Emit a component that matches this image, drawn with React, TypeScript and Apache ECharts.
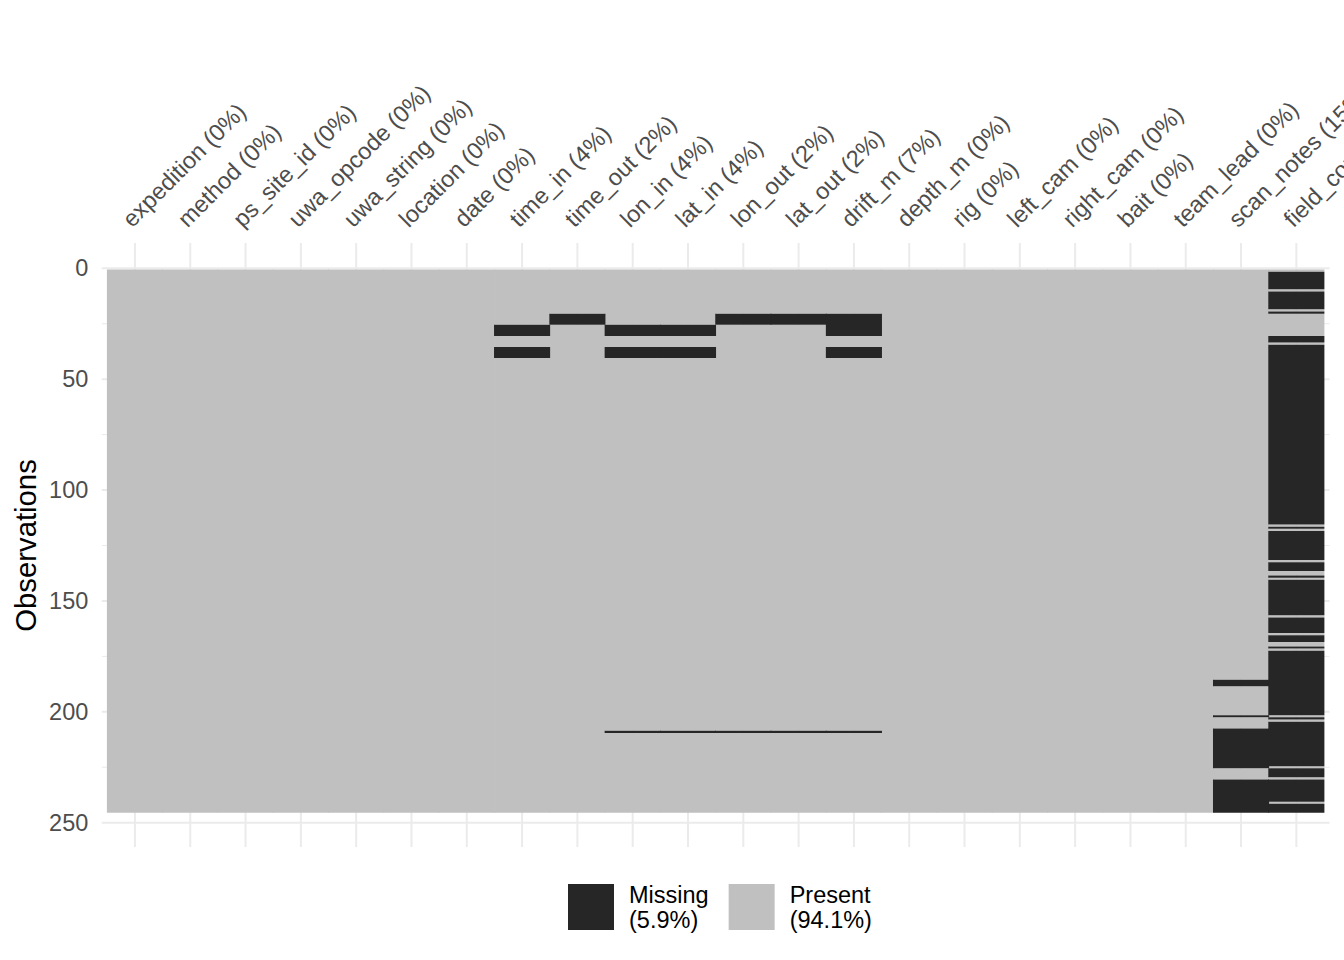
import React, { useEffect, useRef } from 'react';
import * as echarts from 'echarts';

// ---------- data ----------
const COLUMNS = [
  'expedition', 'method', 'ps_site_id', 'uwa_opcode', 'uwa_string', 'location', 'date',
  'time_in', 'time_out', 'lon_in', 'lat_in', 'lon_out', 'lat_out', 'drift_m', 'depth_m',
  'rig', 'left_cam', 'right_cam', 'bait', 'team_lead', 'scan_notes', 'field_comments',
];
const N_ROWS = 245;
const Y_TICKS = [0, 50, 100, 150, 200, 250];
const Y_MINOR_TICKS = [25, 75, 125, 175, 225];

// missing runs per column: [firstRow, lastRow] (inclusive)
const TIME_IN_MISSING = [[26, 30], [36, 40]];
const TIME_OUT_MISSING = [[21, 25]];
const LON_IN_MISSING = [[26, 30], [36, 40], [209, 209]];
const LAT_IN_MISSING = [[26, 30], [36, 40], [209, 209]];
const LON_OUT_MISSING = [[21, 25], [209, 209]];
const LAT_OUT_MISSING = [[21, 25], [209, 209]];
const DRIFT_M_MISSING = [[21, 30], [36, 40], [209, 209]];
const SCAN_NOTES_MISSING = [[186, 188], [202, 202], [208, 225], [231, 245]];
const FIELD_COMMENTS_MISSING = [
  [2, 9], [11, 18], [20, 20], [31, 33], [35, 115], [117, 117], [119, 131], [133, 136],
  [139, 139], [141, 156], [158, 164], [166, 168], [171, 171], [173, 201], [203, 203],
  [205, 224], [226, 229], [231, 240], [242, 245],
];

const MISSING_BY_COLUMN: Record<string, number[][]> = {
  time_in: TIME_IN_MISSING,
  time_out: TIME_OUT_MISSING,
  lon_in: LON_IN_MISSING,
  lat_in: LAT_IN_MISSING,
  lon_out: LON_OUT_MISSING,
  lat_out: LAT_OUT_MISSING,
  drift_m: DRIFT_M_MISSING,
  scan_notes: SCAN_NOTES_MISSING,
  field_comments: FIELD_COMMENTS_MISSING,
};

// ---------- derived ----------
const missingData: number[][] = [];
const presentData: number[][] = [];
let totalMissing = 0;
const colLabels = COLUMNS.map((name, ci) => {
  const runs = (MISSING_BY_COLUMN[name] || []).slice().sort((a, b) => a[0] - b[0]);
  let cnt = 0;
  let cur = 1;
  runs.forEach(([s, e]) => {
    missingData.push([ci, s, e]);
    cnt += e - s + 1;
    if (s > cur) presentData.push([ci, cur, s - 1]);
    cur = e + 1;
  });
  if (cur <= N_ROWS) presentData.push([ci, cur, N_ROWS]);
  totalMissing += cnt;
  return `${name} (${Math.round((cnt / N_ROWS) * 100)}%)`;
});
const missPct = ((totalMissing / (N_ROWS * COLUMNS.length)) * 100).toFixed(1);
const presPct = (100 - parseFloat(missPct)).toFixed(1);

const MISSING_COLOR = '#262626';
const PRESENT_COLOR = '#C0C0C0';
const GRID_COLOR = '#EBEBEB';
const FONT = '"Liberation Sans", Arial, Helvetica, sans-serif';

const tileRender = (params: any, api: any) => {
  const x = api.value(0);
  const s = api.value(1);
  const e = api.value(2);
  const p1 = api.coord([x, s - 0.5]);
  const p2 = api.coord([x, e + 0.5]);
  const w = api.size([1, 0])[0];
  return {
    type: 'rect',
    shape: { x: p1[0] - w / 2 - 0.4, y: p1[1], width: w + 0.8, height: p2[1] - p1[1] },
    style: api.style(),
  };
};

const Y_PANEL_TOP = -11.4;
const Y_PANEL_BOTTOM = 261;

export default function App() {
  const ref = useRef<HTMLDivElement>(null);
  useEffect(() => {
    const chart = echarts.init(ref.current!, null, { renderer: 'svg' });
    chart.setOption({
      animation: false,
      backgroundColor: '#FFFFFF',
      textStyle: { fontFamily: FONT },
      grid: {
        left: 107.3, right: 20, top: 268.3, bottom: 137.3,
        containLabel: false, outerBoundsMode: 'none',
      },
      legend: {
        data: ['Missing', 'Present'],
        left: 563,
        top: 877,
        orient: 'horizontal',
        icon: 'rect',
        itemWidth: 46,
        itemHeight: 46,
        itemGap: 20,
        selectedMode: false,
        formatter: (name: string) => (name === 'Missing' ? `Missing\n(${missPct}%)` : `Present\n(${presPct}%)`),
        textStyle: { fontSize: 23.5, lineHeight: 25, color: '#000000', fontFamily: FONT, padding: [0, 0, 0, 10] },
      },
      xAxis: {
        type: 'category',
        position: 'top',
        data: colLabels,
        boundaryGap: true,
        axisLine: { show: false },
        axisTick: { show: false },
        splitLine: { show: false },
        axisLabel: {
          interval: 0,
          rotate: 45,
          align: 'left',
          verticalAlign: 'bottom',
          margin: 37,
          fontSize: 23.5,
          color: '#4D4D4D',
          fontFamily: FONT,
          hideOverlap: false,
        },
      },
      yAxis: {
        type: 'value',
        inverse: true,
        min: 0,
        max: 250,
        interval: 50,
        axisLine: { show: false },
        axisTick: { show: false },
        splitLine: { show: false },
        axisLabel: { fontSize: 23.5, color: '#4D4D4D', margin: 19, fontFamily: FONT },
        name: 'Observations',
        nameLocation: 'middle',
        nameRotate: 90,
        nameGap: 67,
        nameMoveOverlap: false,
        nameTextStyle: { fontSize: 29.3, color: '#000000', fontFamily: FONT },
      },
      series: [
        {
          name: 'vgrid',
          type: 'custom',
          silent: true,
          clip: false,
          z: 0,
          data: COLUMNS.map((_, i) => [i, 0]),
          encode: { x: 0, y: 1 },
          renderItem: (params: any, api: any) => {
            const i = api.value(0);
            const a = api.coord([i, Y_PANEL_TOP]);
            const b = api.coord([i, Y_PANEL_BOTTOM]);
            return {
              type: 'line',
              shape: { x1: a[0], y1: a[1], x2: b[0], y2: b[1] },
              style: { stroke: GRID_COLOR, lineWidth: 2 },
            };
          },
        },
        {
          name: 'hgrid',
          type: 'custom',
          silent: true,
          clip: false,
          z: 0,
          data: [...Y_TICKS.map((v) => [0, v, 2]), ...Y_MINOR_TICKS.map((v) => [0, v, 1])],
          encode: { x: 0, y: 1 },
          renderItem: (params: any, api: any) => {
            const v = api.value(1);
            const lw = api.value(2);
            const w = api.size([1, 0])[0];
            const a = api.coord([0, v]);
            const b = api.coord([COLUMNS.length - 1, v]);
            return {
              type: 'line',
              shape: { x1: a[0] - 0.6 * w, y1: a[1], x2: b[0] + 0.6 * w, y2: b[1] },
              style: { stroke: GRID_COLOR, lineWidth: lw },
            };
          },
        },
        {
          name: 'Present',
          type: 'custom',
          z: 2,
          clip: false,
          itemStyle: { color: PRESENT_COLOR },
          data: presentData,
          encode: { x: 0, y: [1, 2] },
          renderItem: tileRender,
        },
        {
          name: 'Missing',
          type: 'custom',
          z: 3,
          clip: false,
          itemStyle: { color: MISSING_COLOR },
          data: missingData,
          encode: { x: 0, y: [1, 2] },
          renderItem: tileRender,
        },
      ],
    });
    return () => chart.dispose();
  }, []);
  return <div ref={ref} style={{ position: 'absolute', left: 0, top: 0, width: 1344, height: 960 }} />;
}
